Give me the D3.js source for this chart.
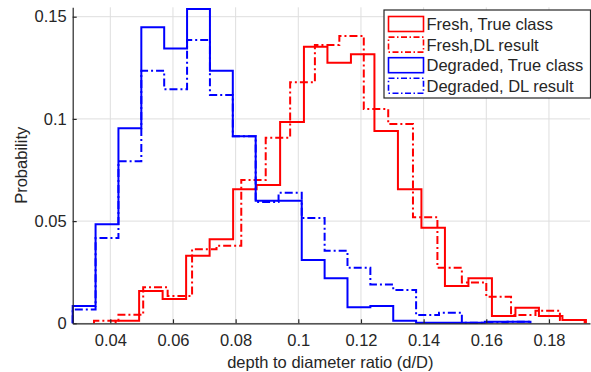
<!DOCTYPE html>
<html lang="en">

<head>
  <meta charset="UTF-8">
  <title>Depth to diameter histogram</title>
  <script src="https://d3js.org/d3.v7.min.js"></script>
  <style>
    body { margin: 0; background: #fff; }
    text { font-family: "Liberation Sans", Arial, Helvetica, sans-serif; fill: #262626; }
  </style>
</head>

<body>
  <script>
    // bin edges (d/D) and probabilities
    const freshTrueEdges = [0.0417, 0.0492, 0.0567, 0.0642, 0.0717, 0.0792, 0.0867, 0.0942, 0.1018, 0.1093,
      0.1168, 0.1243, 0.1318, 0.1393, 0.1468, 0.1543, 0.1618, 0.1693, 0.1768, 0.1843, 0.1918];
    const freshTrue = [0.0013, 0.0158, 0.0119, 0.033, 0.0411, 0.0656, 0.0677, 0.0985, 0.1353, 0.1275,
      0.1316, 0.0941, 0.0656, 0.0468, 0.0182, 0.022, 0.0036, 0.0076, 0.0036, 0.0016];

    const freshDLEdges = [0.0348, 0.0426, 0.0505, 0.0583, 0.0661, 0.0739, 0.0818, 0.0896, 0.0974, 0.1053,
      0.1131, 0.1209, 0.1287, 0.1366, 0.1444, 0.1522, 0.1600, 0.1679, 0.1757, 0.1835, 0.1914];
    const freshDL = [0.0013, 0.0042, 0.0176, 0.0134, 0.0362, 0.038, 0.0701, 0.0908, 0.1179, 0.1362,
      0.1406, 0.1048, 0.0975, 0.0519, 0.0272, 0.020, 0.013, 0.0041, 0.0062, 0.0016];

    const degradedEdges = [0.0280, 0.0353, 0.0426, 0.0499, 0.0572, 0.0645, 0.0718, 0.0791, 0.0864, 0.0937,
      0.1011, 0.1084, 0.1157, 0.1230, 0.1303, 0.1376, 0.1449, 0.1522, 0.1595, 0.1668, 0.1741];
    const degradedTrue = [0.0085, 0.0484, 0.0954, 0.1448, 0.1344, 0.1538, 0.1236, 0.0915, 0.060, 0.060,
      0.031, 0.022, 0.0078, 0.0085, 0.0013, 0.0003, 0.0003, 0.0003, 0.0008, 0.0008];
    const degradedDL = [0.0068, 0.0417, 0.0793, 0.1236, 0.1145, 0.1386, 0.1117, 0.0915, 0.0593, 0.0639,
      0.0515, 0.0355, 0.0272, 0.019, 0.0163, 0.004, 0.0052, 0.0003, 0.0005, 0.0008];

    const xTicks = [0.04, 0.06, 0.08, 0.1, 0.12, 0.14, 0.16, 0.18];
    const yTicks = [0, 0.05, 0.1, 0.15];
    const legendLabels = ["Fresh, True class", "Fresh,DL result", "Degraded, True class", "Degraded, DL result"];

    const series = [
      { edges: freshTrueEdges, values: freshTrue, color: "#ff0000", dash: null },
      { edges: freshDLEdges, values: freshDL, color: "#ff0000", dash: "8,3,2,3" },
      { edges: degradedEdges, values: degradedTrue, color: "#0000ff", dash: null },
      { edges: degradedEdges, values: degradedDL, color: "#0000ff", dash: "8,3,2,3" }
    ];

    const width = 591, height = 372;
    const plotLeft = 72.7, plotRight = 590, plotTop = 7.3, plotBottom = 323.3;
    const fontSize = 16.5;

    const x = d3.scaleLinear().domain([0.028, 0.1931]).range([plotLeft, plotRight]);
    const y = d3.scaleLinear().domain([0, 0.1546]).range([plotBottom, plotTop]);

    const svg = d3.select("body")
      .append("svg")
      .attr("width", width)
      .attr("height", height);

    // grid
    const grid = svg.append("g").attr("stroke", "#dedede").attr("stroke-width", 1);
    grid.selectAll(".vgrid")
      .data(xTicks)
      .join("line")
      .attr("x1", d => x(d)).attr("x2", d => x(d))
      .attr("y1", plotTop).attr("y2", plotBottom);
    grid.selectAll(".hgrid")
      .data(yTicks)
      .join("line")
      .attr("x1", plotLeft).attr("x2", plotRight)
      .attr("y1", d => y(d)).attr("y2", d => y(d));

    // histogram outlines
    const line = d3.line().x(d => x(d[0])).y(d => y(d[1]));
    series.forEach(s => {
      const pts = [[s.edges[0], 0]];
      s.values.forEach((v, i) => {
        pts.push([s.edges[i], v]);
        pts.push([s.edges[i + 1], v]);
      });
      pts.push([s.edges[s.edges.length - 1], 0]);
      svg.append("path")
        .attr("d", line(pts))
        .attr("fill", "none")
        .attr("stroke", s.color)
        .attr("stroke-width", 2)
        .attr("stroke-dasharray", s.dash);
    });

    // axes
    const xAxis = svg.append("g")
      .attr("transform", `translate(0,${plotBottom})`)
      .call(d3.axisBottom(x).tickValues(xTicks).tickFormat(d3.format("~g"))
        .tickSizeInner(-4).tickSizeOuter(0).tickPadding(11));
    const yAxis = svg.append("g")
      .attr("transform", `translate(${plotLeft},0)`)
      .call(d3.axisLeft(y).tickValues(yTicks).tickFormat(d3.format("~g"))
        .tickSizeInner(-4).tickSizeOuter(0).tickPadding(6));

    [xAxis, yAxis].forEach(a => {
      a.select(".domain").attr("stroke", "#262626").attr("stroke-width", 1.2);
      a.selectAll(".tick line").attr("stroke", "#262626").attr("stroke-width", 1.2);
      a.selectAll(".tick text")
        .attr("fill", "#262626")
        .style("font-size", fontSize + "px")
        .style("font-family", "'Liberation Sans', Arial, sans-serif");
    });

    svg.append("text")
      .attr("x", (plotLeft + plotRight) / 2 - 1)
      .attr("y", 368)
      .attr("text-anchor", "middle")
      .style("font-size", fontSize + "px")
      .text("depth to diameter ratio (d/D)");

    svg.append("text")
      .attr("transform", `translate(27,${(plotTop + plotBottom) / 2}) rotate(-90)`)
      .attr("text-anchor", "middle")
      .style("font-size", fontSize + "px")
      .text("Probability");

    // legend
    const legend = svg.append("g").attr("transform", "translate(384,10)");
    legend.append("rect")
      .attr("width", 206.5).attr("height", 88)
      .attr("fill", "#fff")
      .attr("stroke", "#262626")
      .attr("stroke-width", 1.2);

    const rows = legend.selectAll(".row")
      .data(series)
      .join("g")
      .attr("transform", (d, i) => `translate(0,${14 + i * 20.6})`);
    rows.append("rect")
      .attr("x", 4.5).attr("y", -7.5)
      .attr("width", 35).attr("height", 15)
      .attr("fill", "none")
      .attr("stroke", d => d.color)
      .attr("stroke-width", 1.6)
      .attr("stroke-dasharray", d => d.dash ? "6,2.5,1.5,2.5" : null);
    rows.append("text")
      .attr("x", 42.5).attr("y", 6)
      .style("font-size", fontSize + "px")
      .text((d, i) => legendLabels[i]);
  </script>
</body>

</html>
